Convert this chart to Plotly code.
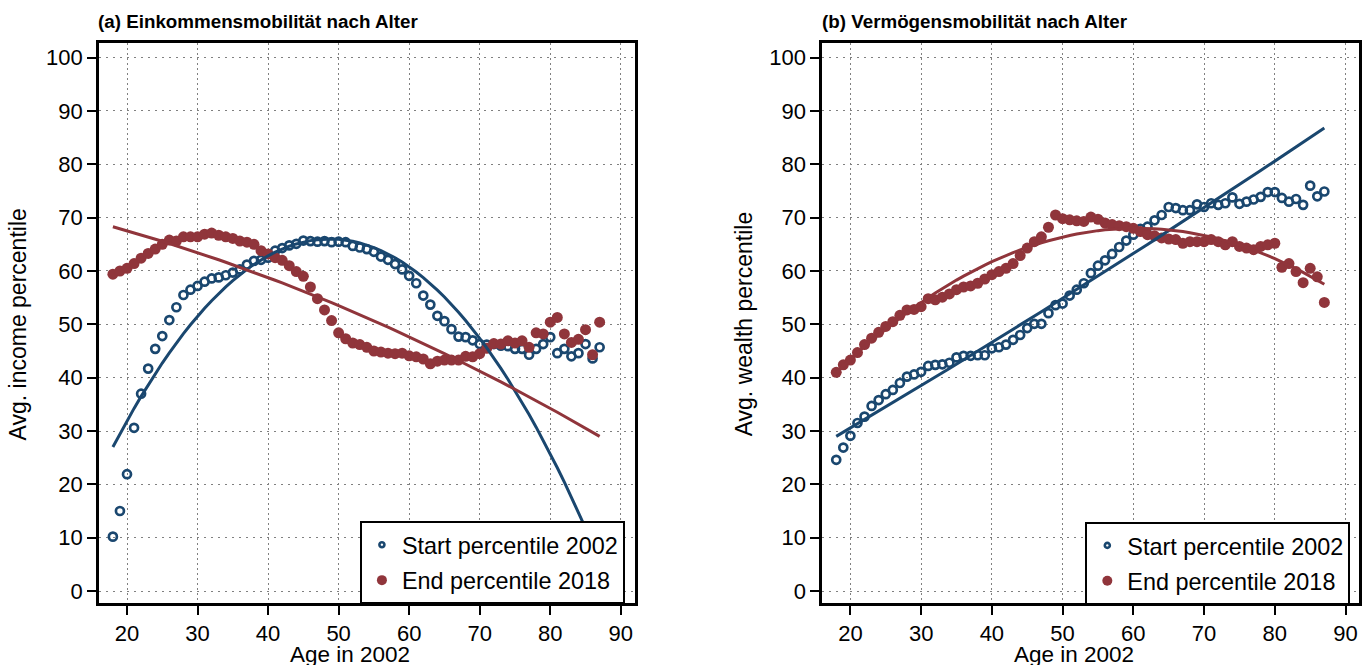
import plotly.graph_objects as go

# Age in 2002 (one bin per year of age)
ages = list(range(18, 88))

# (a) income: average percentile rank by age
income_start_2002 = [
    10.2, 15.0, 21.9, 30.6, 37.0, 41.7, 45.4, 47.8, 50.8, 53.2,
    55.5, 56.5, 57.2, 58.0, 58.6, 58.8, 59.2, 59.7, 60.3, 61.2,
    61.9, 62.1, 62.5, 63.8, 64.3, 64.8, 65.1, 65.7, 65.6, 65.5,
    65.6, 65.4, 65.5, 65.4, 64.7, 64.4, 64.1, 63.6, 62.7, 62.1,
    61.3, 60.3, 59.1, 57.7, 55.4, 53.7, 51.6, 50.6, 49.1, 47.7,
    47.6, 47.0, 46.3, 46.2, 46.3, 46.0, 45.9, 45.4, 45.4, 44.3,
    45.4, 46.3, 47.6, 44.6, 45.4, 44.0, 44.6, 46.3, 43.6, 45.7,
]
income_end_2018 = [
    59.4, 60.0, 60.5, 61.4, 62.4, 63.3, 64.1, 65.0, 65.8, 65.6,
    66.4, 66.4, 66.4, 66.9, 67.1, 66.7, 66.4, 66.1, 65.6, 65.4,
    65.0, 63.8, 63.2, 62.5, 62.0, 61.0, 59.9, 59.0, 57.0, 54.8,
    52.7, 50.7, 48.4, 47.3, 46.5, 46.2, 45.7, 45.0, 44.8, 44.6,
    44.5, 44.6, 44.1, 43.9, 43.5, 42.6, 43.1, 43.3, 43.3, 43.3,
    44.0, 43.9, 44.5, 45.5, 46.4, 46.3, 46.9, 46.5, 46.9, 45.7,
    48.4, 48.2, 50.4, 51.3, 48.2, 46.6, 47.2, 49.0, 44.3, 50.4,
]

# (b) wealth: average percentile rank by age
wealth_start_2002 = [
    24.6, 26.9, 29.1, 31.5, 32.7, 34.7, 35.8, 36.9, 37.7, 39.0,
    40.2, 40.6, 41.1, 42.2, 42.4, 42.5, 42.8, 43.8, 44.1, 44.1,
    44.2, 44.2, 45.5, 45.7, 46.2, 47.1, 48.0, 49.3, 50.1, 50.1,
    52.1, 53.6, 53.9, 55.4, 56.5, 57.7, 59.6, 61.0, 62.0, 63.2,
    64.5, 65.7, 66.8, 67.9, 68.3, 69.5, 70.5, 72.0, 71.8, 71.4,
    71.4, 72.5, 72.0, 72.7, 72.4, 72.7, 73.8, 72.6, 73.0, 73.4,
    73.9, 74.8, 74.8, 73.7, 73.0, 73.5, 72.4, 76.0, 74.0, 74.9,
]
wealth_end_2018 = [
    41.0, 42.4, 43.3, 44.7, 46.2, 47.4, 48.5, 49.6, 50.5, 51.7,
    52.7, 52.8, 53.3, 54.8, 54.6, 55.1, 55.7, 56.5, 57.0, 57.2,
    57.7, 58.5, 59.3, 59.9, 60.5, 61.4, 62.9, 64.3, 65.5, 66.4,
    68.2, 70.5, 69.8, 69.6, 69.4, 69.3, 70.1, 69.7, 69.0, 68.7,
    68.5, 68.3, 68.0, 67.4, 66.8, 66.6, 66.2, 66.0, 65.9, 65.2,
    65.5, 65.5, 65.5, 65.9, 65.5, 64.9, 65.5, 64.6, 64.3, 64.0,
    64.6, 64.9, 65.2, 60.7, 61.4, 59.9, 57.8, 60.5, 58.9, 54.1,
]

# Quadratic fit coefficients (const, age, age^2)
qfit_income_start = [-32.01, 4.021, -0.04124]
qfit_income_end = [74.02, -0.2657, -0.002894]
qfit_wealth_start = [15.174, 0.7537, 0.0008]
qfit_wealth_end = [13.27, 1.810, -0.01496]

x_ticks = [20, 30, 40, 50, 60, 70, 80, 90]
y_ticks = [0, 10, 20, 30, 40, 50, 60, 70, 80, 90, 100]

panel_titles = ["(a) Einkommensmobilität nach Alter", "(b) Vermögensmobilität nach Alter"]
y_titles = ["Avg. income percentile", "Avg. wealth percentile"]
x_title = "Age in 2002"
legend_names = ["Start percentile 2002", "End percentile 2018"]

NAVY = "#1a476f"
MAROON = "#90353b"
FONT = "Liberation Sans, Arial, Helvetica, sans-serif"

W, H = 1362, 665


def qfit(coefs, xs):
    a0, a1, a2 = coefs
    return [a0 + a1 * x + a2 * x * x for x in xs]


fig = go.Figure()

panels = [
    ("x", "y", "legend", income_start_2002, income_end_2018, qfit_income_start, qfit_income_end),
    ("x2", "y2", "legend2", wealth_start_2002, wealth_end_2018, qfit_wealth_start, qfit_wealth_end),
]
for xa, ya, leg, start, end, fit_s, fit_e in panels:
    fig.add_trace(go.Scatter(
        x=ages, y=start, mode="markers", name=legend_names[0], xaxis=xa, yaxis=ya,
        showlegend=False,
        marker=dict(symbol="circle-open", size=8, color=NAVY, line=dict(color=NAVY, width=2.7)),
    ))
    fig.add_trace(go.Scatter(
        x=ages, y=end, mode="markers", name=legend_names[1], xaxis=xa, yaxis=ya,
        showlegend=False,
        marker=dict(symbol="circle", size=11, color=MAROON),
    ))
    fig.add_trace(go.Scatter(
        x=ages, y=qfit(fit_s, ages), mode="lines", showlegend=False, xaxis=xa, yaxis=ya,
        line=dict(color=NAVY, width=3), hoverinfo="skip",
    ))
    fig.add_trace(go.Scatter(
        x=ages, y=qfit(fit_e, ages), mode="lines", showlegend=False, xaxis=xa, yaxis=ya,
        line=dict(color=MAROON, width=3), hoverinfo="skip",
    ))
    # legend keys with smaller symbols than the plotted markers
    fig.add_trace(go.Scatter(
        x=[None], y=[None], mode="markers", name=legend_names[0], xaxis=xa, yaxis=ya,
        legend=leg, legendgroup=leg + "s",
        marker=dict(symbol="circle-open", size=5, color=NAVY, line=dict(color=NAVY, width=2.6)),
    ))
    fig.add_trace(go.Scatter(
        x=[None], y=[None], mode="markers", name=legend_names[1], xaxis=xa, yaxis=ya,
        legend=leg, legendgroup=leg + "e",
        marker=dict(symbol="circle", size=10, color=MAROON),
    ))

common_axis = dict(
    showline=True, linecolor="black", linewidth=2.5, mirror=True,
    ticks="outside", ticklen=9, tickwidth=2, tickcolor="black",
    showgrid=True, gridcolor="#808080", gridwidth=1,
    zeroline=False, tickfont=dict(family=FONT, size=22, color="black"),
)

y_dom = [1 - 603.3 / H, 1 - 42.7 / H]
legend_style = dict(
    bgcolor="white", bordercolor="black", borderwidth=2,
    font=dict(family=FONT, size=23.4, color="black"), tracegroupgap=2,
)
fig.update_layout(
    width=W, height=H, autosize=False,
    margin=dict(l=0, r=0, t=0, b=0),
    paper_bgcolor="white", plot_bgcolor="white",
    font=dict(family=FONT, color="black"),
    showlegend=True,
    xaxis=dict(common_axis, domain=[99 / W, 636.3 / W], range=[16, 92], tickvals=x_ticks,
               griddash="2px,3px", anchor="y"),
    yaxis=dict(common_axis, domain=y_dom, range=[-2.3, 102.8], tickvals=y_ticks,
               griddash="2px,5px", anchor="x"),
    xaxis2=dict(common_axis, domain=[823.9 / W, 1.0], range=[16, 91.9], tickvals=x_ticks,
                griddash="2px,3px", anchor="y2"),
    yaxis2=dict(common_axis, domain=y_dom, range=[-2.3, 102.8], tickvals=y_ticks,
                griddash="2px,5px", anchor="x2"),
    legend=dict(legend_style, x=626.3 / W, xanchor="right", y=1 - 521 / H, yanchor="top"),
    legend2=dict(legend_style, x=1353.3 / W, xanchor="right", y=1 - 521.7 / H, yanchor="top"),
)

annotations = []
for i, (tx, ytx, xt_center) in enumerate([(96.7, 18.5, 351), (821.7, 746, 1076)]):
    annotations.append(dict(
        text="<b>" + panel_titles[i] + "</b>", xref="paper", yref="paper",
        x=tx / W, y=1 - 22 / H, xanchor="left", yanchor="middle", showarrow=False,
        font=dict(family=FONT, size=18.8, color="black"),
    ))
    annotations.append(dict(
        text=y_titles[i], xref="paper", yref="paper", textangle=-90,
        x=ytx / W, y=1 - 324 / H, xanchor="center", yanchor="middle", showarrow=False,
        font=dict(family=FONT, size=23, color="black"),
    ))
    annotations.append(dict(
        text=x_title, xref="paper", yref="paper",
        x=xt_center / W, y=0, xanchor="center", yanchor="bottom", showarrow=False,
        yshift=-3, borderpad=0,
        font=dict(family=FONT, size=22.5, color="black"),
    ))
fig.update_layout(annotations=annotations)

fig.write_html("out.html")
